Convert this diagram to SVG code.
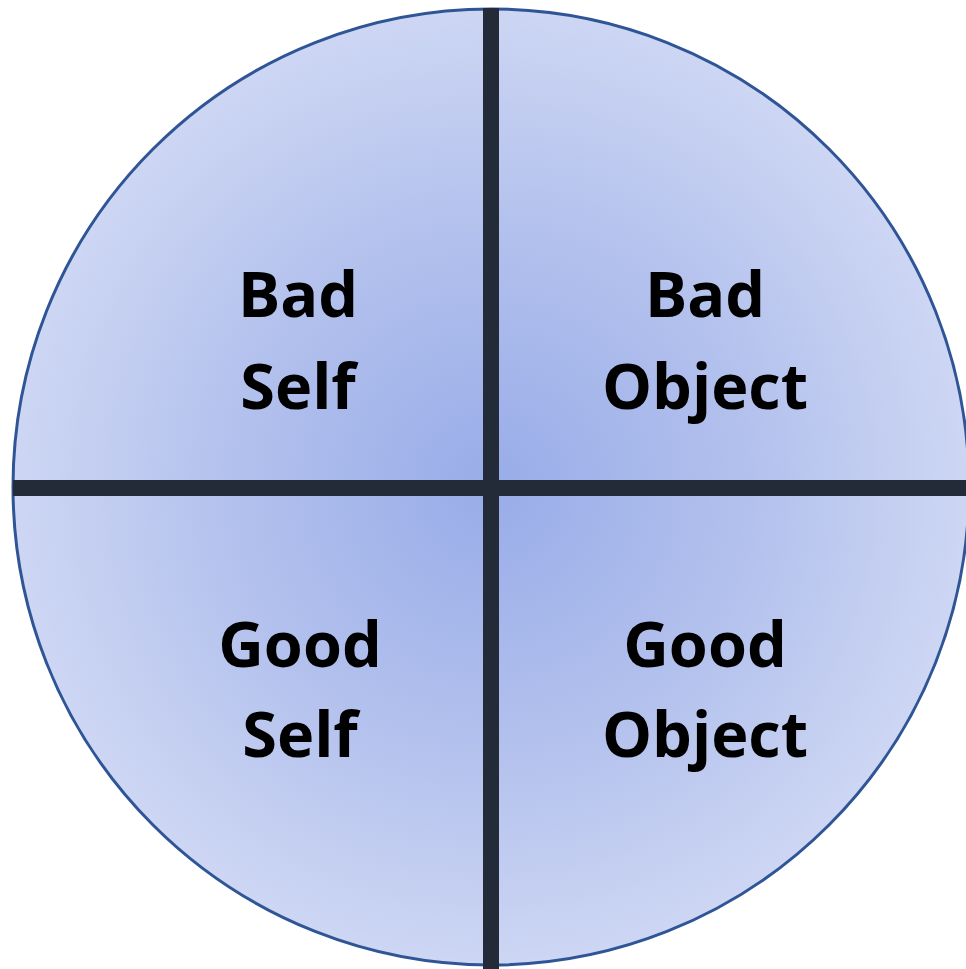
<svg xmlns="http://www.w3.org/2000/svg" width="966" height="969" viewBox="0 0 966 969">
<defs>
<radialGradient id="g" cx="491" cy="487" r="478" gradientUnits="userSpaceOnUse">
<stop offset="0" stop-color="#98ace8"/>
<stop offset="0.55" stop-color="#b3c1ed"/>
<stop offset="1" stop-color="#cdd6f3"/>
</radialGradient>
<style>
.t{font-family:"Open Sans","Liberation Sans",sans-serif;font-weight:bold;font-size:63px;fill:#000;text-anchor:middle}
.d{stroke:#232b38;stroke-width:16}
</style>
</defs>
<g id="circle">
<circle cx="491" cy="487" r="478" fill="url(#g)" stroke="#2f5597" stroke-width="3"/>
</g>
<g id="dividers">
<line class="d" x1="491" y1="8" x2="491" y2="969"/>
<line class="d" x1="13" y1="488" x2="966" y2="488"/>
</g>
<g id="bad-self"><text class="t" x="298" y="317">Bad</text><text class="t" x="298" y="409">Self</text></g>
<g id="bad-object"><text class="t" x="705" y="317">Bad</text><text class="t" x="705" y="409">Object</text></g>
<g id="good-self"><text class="t" x="300" y="667">Good</text><text class="t" x="300" y="757">Self</text></g>
<g id="good-object"><text class="t" x="705" y="667">Good</text><text class="t" x="705" y="757">Object</text></g>
</svg>
